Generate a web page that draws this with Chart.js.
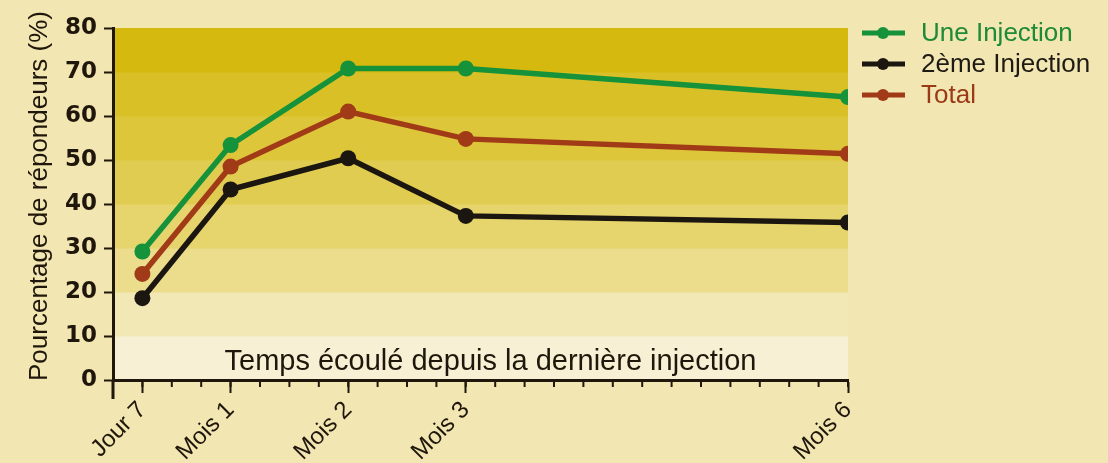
<!DOCTYPE html>
<html>
<head>
<meta charset="utf-8">
<script src="https://cdn.jsdelivr.net/npm/chart.js@4.4.1/dist/chart.umd.min.js"></script>
<style>
  html, body { margin: 0; padding: 0; background: #f2e6b2; }
  #wrap { width: 1108px; height: 463px; }
</style>
</head>
<body>
<div id="wrap"><canvas id="myChart" width="1108" height="463"></canvas></div>
<script>
// ------------- data -------------------------------------
const categories = ["Jour 7", "Mois 1", "Mois 2", "Mois 3", "Mois 6"];
const weeks = [1, 4, 8, 12, 25]; // position on the time axis, in weeks
const uneInjection = [29.2, 53.4, 70.8, 70.8, 64.3];
const deuxiemeInjection = [18.6, 43.3, 50.4, 37.3, 35.8];
const total = [24.1, 48.5, 61, 54.8, 51.4];
const seriesNames = ["Une Injection", "2ème Injection", "Total"];
const yTicks = [0, 10, 20, 30, 40, 50, 60, 70, 80];

// ------------- styles ----------------
const ink = "#1f170b";
const seriesColors = ["#15923a", "#1c1610", "#a03a17"];
const legendText = ["#1f8a36", "#1e1a14", "#9a3a16"];
const bandColors = ["#f7f0d4", "#f1e8b6", "#ebdd8c", "#e6d46c", "#e1cc52", "#dec63a", "#dac027", "#d5b90f"];
const textFont = "'Liberation Sans', Arial, sans-serif";

function points(values) {
  return values.map((v, i) => ({ x: weeks[i], y: v }));
}

const backdrop = {
  id: "backdrop",
  beforeDraw(chart) {
    const { ctx, chartArea: a, scales: { y } } = chart;
    ctx.save();
    ctx.fillStyle = "#f2e6b2";
    ctx.fillRect(0, 0, chart.width, chart.height);
    for (let i = 0; i < yTicks.length - 1; i++) {
      const top = y.getPixelForValue(yTicks[i + 1]);
      const bot = y.getPixelForValue(yTicks[i]);
      ctx.fillStyle = bandColors[i];
      ctx.fillRect(a.left, top, a.right - a.left, bot - top + 0.5);
    }
    ctx.restore();
  },
};

const extras = {
  id: "extras",
  afterDraw(chart) {
    const { ctx, chartArea: a, scales: { x, y } } = chart;
    ctx.save();
    ctx.strokeStyle = ink;
    ctx.lineWidth = 2;
    // weekly minor ticks
    for (let w = 0; w <= x.max; w++) {
      const px = x.getPixelForValue(w);
      ctx.beginPath();
      ctx.moveTo(px, a.bottom);
      ctx.lineTo(px, a.bottom + 7);
      ctx.stroke();
    }
    // y axis runs past the origin
    ctx.lineWidth = 3;
    ctx.beginPath();
    ctx.moveTo(a.left, a.bottom);
    ctx.lineTo(a.left, a.bottom + 19);
    ctx.stroke();

    // axis titles
    ctx.fillStyle = ink;
    ctx.font = "29px " + textFont;
    ctx.textAlign = "center";
    ctx.textBaseline = "alphabetic";
    ctx.fillText("Temps écoulé depuis la dernière injection", (a.left + a.right) / 2 + 10, y.getPixelForValue(0) - 10);

    ctx.save();
    ctx.translate(47, (a.top + a.bottom) / 2 - 8);
    ctx.rotate(-Math.PI / 2);
    ctx.font = "26px " + textFont;
    ctx.fillText("Pourcentage de répondeurs (%)", 0, 0);
    ctx.restore();

    // legend
    ctx.font = "26px " + textFont;
    ctx.textAlign = "left";
    ctx.textBaseline = "middle";
    chart.data.datasets.forEach((ds, i) => {
      const cy = a.top + 5 + i * 31;
      const x0 = a.right + 14;
      ctx.strokeStyle = ds.borderColor;
      ctx.lineWidth = 5;
      ctx.beginPath();
      ctx.moveTo(x0, cy);
      ctx.lineTo(x0 + 43, cy);
      ctx.stroke();
      ctx.fillStyle = ds.borderColor;
      ctx.beginPath();
      ctx.arc(x0 + 21, cy, 6, 0, Math.PI * 2);
      ctx.fill();
      ctx.fillStyle = legendText[i];
      ctx.fillText(ds.label, x0 + 59, cy + 1);
    });
    ctx.restore();
  },
};

document.addEventListener("DOMContentLoaded", () => {
  const ctx = document.getElementById("myChart");
  new Chart(ctx, {
    type: "line",
    data: {
      datasets: [uneInjection, deuxiemeInjection, total].map((vals, i) => ({
        label: seriesNames[i],
        data: points(vals),
        borderColor: seriesColors[i],
        backgroundColor: seriesColors[i],
        borderWidth: 5.5,
        pointRadius: 8,
        pointBorderWidth: 0,
        tension: 0,
      })),
    },
    options: {
      responsive: false,
      animation: false,
      layout: { padding: { top: 28, right: 260, left: 0, bottom: 0 } },
      plugins: { legend: { display: false }, tooltip: { enabled: false } },
      scales: {
        x: {
          type: "linear",
          min: 0,
          max: 25,
          afterBuildTicks: (scale) => {
            scale.ticks = weeks.map((w) => ({ value: w }));
          },
          afterFit: (scale) => {
            scale.height = 83;
          },
          ticks: {
            autoSkip: false,
            maxRotation: 45,
            minRotation: 45,
            padding: 3,
            color: ink,
            font: { family: textFont, size: 24 },
            callback: (v) => categories[weeks.indexOf(v)] ?? "",
          },
          grid: { drawOnChartArea: false, tickLength: 13, tickWidth: 2, tickColor: ink },
          border: { color: ink, width: 3 },
        },
        y: {
          min: 0,
          max: 80,
          afterBuildTicks: (scale) => {
            scale.ticks = yTicks.map((v) => ({ value: v }));
          },
          afterFit: (scale) => {
            scale.width = 113;
          },
          ticks: {
            padding: 7,
            color: ink,
            font: { family: "'DejaVu Sans', sans-serif", size: 23, weight: "bold" },
          },
          grid: { drawOnChartArea: false, tickLength: 9, tickWidth: 2, tickColor: ink },
          border: { color: ink, width: 3 },
        },
      },
    },
    plugins: [backdrop, extras],
  });
});
</script>
</body>
</html>
